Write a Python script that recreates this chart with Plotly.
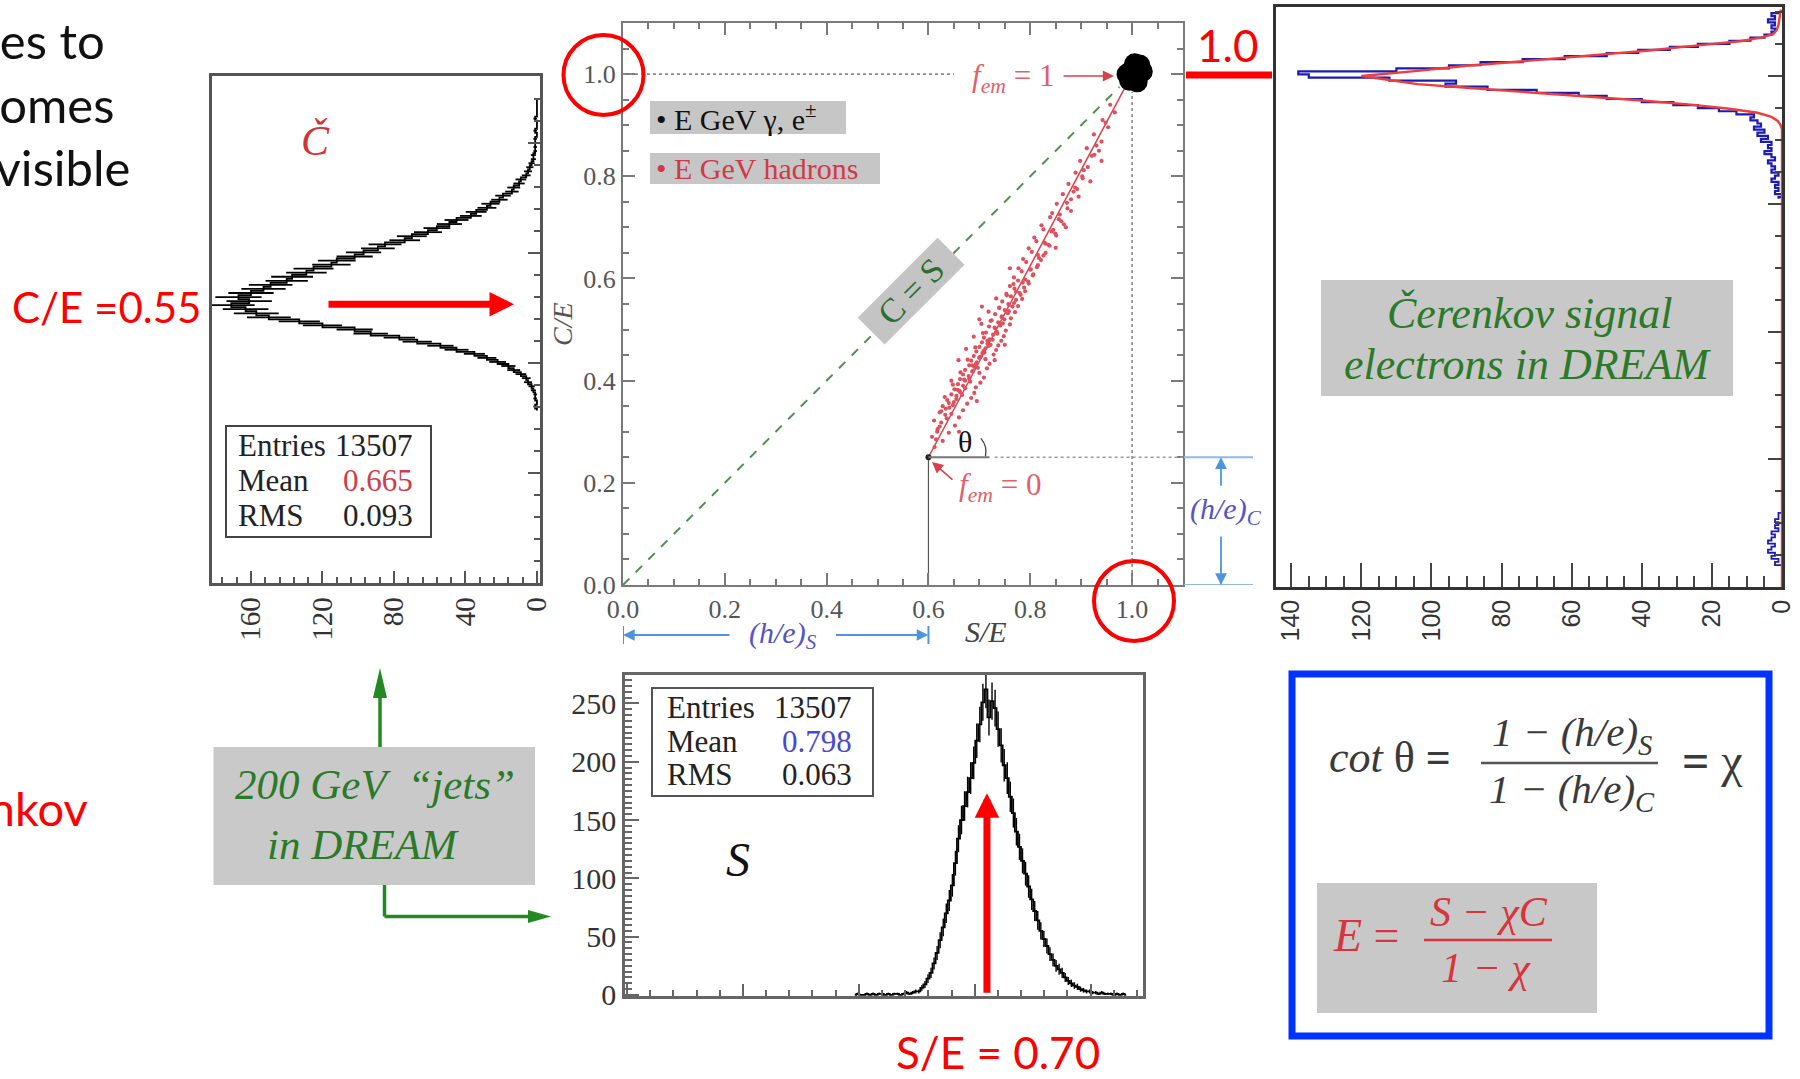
import numpy as np
import plotly.graph_objects as go

W, H = 1800, 1079
SERIF = "Liberation Serif"
SANS = "Lato"
RED = "#ff0000"
ROOT_RED = "#d8404c"
GREEN = "#2a7a2a"


def X(p):
    return p / W


def Y(p):
    return 1 - p / H


# ---------------- data ----------------
# (h/e) values of the calorimeter: hadron line starts at (h/e)_S, (h/e)_C
he_s = 0.60
he_c = 0.25
em_point = [1.0, 1.0]
diag_end = 0.975

# electron cluster at S/E = C/E = 1
em_s = [0.990, 1.005, 1.020, 1.010, 0.995, 1.000, 1.015]
em_c = [1.000, 1.020, 1.005, 0.985, 0.988, 1.008, 1.018]

# hadron events (S/E, C/E)
hadron_s = [0.612, 0.628, 0.607, 0.640, 0.618, 0.652, 0.625, 0.611, 0.660, 0.633, 0.622, 0.668, 0.641, 0.628,
            0.676, 0.650, 0.637, 0.684, 0.655, 0.645, 0.690, 0.661, 0.651, 0.693, 0.668, 0.658, 0.702, 0.672,
            0.662, 0.709, 0.679, 0.668, 0.700, 0.686, 0.672, 0.715, 0.690, 0.680, 0.720, 0.695, 0.684, 0.712,
            0.700, 0.689, 0.728, 0.706, 0.694, 0.733, 0.712, 0.700, 0.737, 0.716, 0.705, 0.743, 0.720, 0.709,
            0.748, 0.727, 0.713, 0.752, 0.731, 0.719, 0.760, 0.737, 0.724, 0.762, 0.744, 0.731, 0.770, 0.750,
            0.739, 0.776, 0.757, 0.745, 0.784, 0.762, 0.753, 0.790, 0.769, 0.760, 0.797, 0.776, 0.768, 0.806,
            0.783, 0.777, 0.815, 0.792, 0.786, 0.826, 0.803, 0.797, 0.836, 0.812, 0.808, 0.849, 0.826, 0.822,
            0.861, 0.839, 0.843, 0.873, 0.852, 0.880, 0.864, 0.892, 0.875, 0.903, 0.889, 0.913, 0.898, 0.926,
            0.911, 0.940, 0.925, 0.953, 0.942, 0.966, 0.957, 0.705, 0.870, 0.760, 0.750, 0.645, 0.695, 0.940,
            0.700, 0.850, 0.660, 0.730, 0.617, 0.634, 0.648, 0.666, 0.682, 0.697, 0.708, 0.722, 0.735, 0.746,
            0.758, 0.768, 0.779, 0.790, 0.801, 0.817, 0.830, 0.845, 0.858, 0.885, 0.905, 0.930,
            0.615, 0.622, 0.636, 0.645, 0.655, 0.662, 0.672, 0.680, 0.688, 0.693, 0.703, 0.710, 0.718, 0.726,
            0.734, 0.741, 0.749, 0.756, 0.765, 0.772, 0.781, 0.788, 0.796, 0.805, 0.813, 0.821, 0.830, 0.838,
            0.851, 0.866, 0.880, 0.895, 0.918, 0.935, 0.625, 0.640, 0.657, 0.670, 0.686, 0.700, 0.716, 0.730,
            0.744, 0.758, 0.772, 0.785, 0.800, 0.815, 0.828, 0.842, 0.856, 0.872, 0.888, 0.902, 0.921, 0.948,
            0.632, 0.648, 0.663, 0.677, 0.692, 0.707, 0.722, 0.739, 0.754, 0.767, 0.659, 0.674, 0.689, 0.704,
            0.718, 0.733]
hadron_c = [0.270, 0.282, 0.290, 0.298, 0.305, 0.312, 0.318, 0.322, 0.328, 0.333, 0.338, 0.342, 0.347, 0.350,
            0.355, 0.358, 0.362, 0.366, 0.370, 0.373, 0.376, 0.380, 0.383, 0.387, 0.390, 0.393, 0.396, 0.400,
            0.403, 0.406, 0.409, 0.412, 0.415, 0.418, 0.421, 0.424, 0.427, 0.430, 0.433, 0.436, 0.439, 0.442,
            0.445, 0.448, 0.451, 0.454, 0.457, 0.460, 0.463, 0.466, 0.469, 0.472, 0.475, 0.478, 0.481, 0.484,
            0.487, 0.490, 0.494, 0.498, 0.502, 0.506, 0.510, 0.514, 0.518, 0.522, 0.526, 0.530, 0.534, 0.538,
            0.542, 0.546, 0.550, 0.555, 0.560, 0.565, 0.570, 0.575, 0.580, 0.585, 0.590, 0.596, 0.602, 0.608,
            0.614, 0.620, 0.626, 0.632, 0.638, 0.645, 0.652, 0.659, 0.666, 0.673, 0.680, 0.688, 0.696, 0.704,
            0.712, 0.720, 0.728, 0.737, 0.746, 0.755, 0.765, 0.775, 0.785, 0.796, 0.807, 0.818, 0.830, 0.842,
            0.855, 0.868, 0.882, 0.896, 0.910, 0.925, 0.940, 0.545, 0.700, 0.620, 0.470, 0.400, 0.360, 0.830,
            0.520, 0.660, 0.300, 0.440, 0.300, 0.345, 0.352, 0.372, 0.398, 0.425, 0.458, 0.470, 0.492, 0.512,
            0.536, 0.552, 0.572, 0.598, 0.618, 0.640, 0.668, 0.695, 0.725, 0.770, 0.812, 0.860,
            0.285, 0.310, 0.326, 0.335, 0.364, 0.378, 0.385, 0.404, 0.419, 0.432, 0.447, 0.455, 0.468, 0.480,
            0.496, 0.508, 0.520, 0.532, 0.545, 0.558, 0.568, 0.582, 0.594, 0.606, 0.622, 0.636, 0.650, 0.664,
            0.684, 0.706, 0.732, 0.760, 0.790, 0.850, 0.340, 0.356, 0.382, 0.402, 0.430, 0.445, 0.478, 0.504,
            0.524, 0.548, 0.574, 0.592, 0.617, 0.646, 0.670, 0.692, 0.716, 0.748, 0.778, 0.800, 0.840, 0.905,
            0.368, 0.392, 0.416, 0.441, 0.465, 0.493, 0.517, 0.543, 0.567, 0.589, 0.440, 0.462, 0.486, 0.511,
            0.535, 0.561]

# Cerenkov (C/E) distribution of the jets, bin centres and counts
cher_bins = [0.340, 0.348, 0.356, 0.364, 0.372, 0.380, 0.388, 0.396, 0.404, 0.412, 0.420, 0.428, 0.436, 0.444,
             0.452, 0.460, 0.468, 0.476, 0.484, 0.492, 0.500, 0.508, 0.516, 0.524, 0.532, 0.540, 0.548, 0.556,
             0.564, 0.572, 0.580, 0.588, 0.596, 0.604, 0.612, 0.620, 0.628, 0.636, 0.644, 0.652, 0.660, 0.668,
             0.676, 0.684, 0.692, 0.700, 0.708, 0.716, 0.724, 0.732, 0.740, 0.748, 0.756, 0.764, 0.772, 0.780,
             0.788, 0.796, 0.804, 0.812, 0.820, 0.828, 0.836, 0.844, 0.852, 0.860, 0.868, 0.876, 0.884, 0.892,
             0.900, 0.908, 0.916, 0.924, 0.932, 0.940, 0.948, 0.956]
cher_counts = [0, 1, 0, 1, 1, 2, 3, 5, 6, 9, 13, 16, 22, 28, 35, 45, 54, 67, 77, 93, 102, 120, 133, 150, 157,
               163, 171, 161, 167, 160, 153, 149, 140, 137, 129, 125, 115, 112, 102, 97, 89, 85, 74, 70, 61, 56,
               49, 45, 37, 34, 28, 26, 21, 19, 14, 13, 10, 9, 6, 5, 4, 3, 2, 2, 1, 1, 1, 1, 0, 1, 0, 0, 1, 0, 0,
               0, 0, 0]

# Scintillation (S/E) distribution of the jets
scin_bins = [0.440, 0.446, 0.452, 0.458, 0.464, 0.470, 0.476, 0.482, 0.488, 0.494, 0.500, 0.506, 0.512, 0.518,
             0.524, 0.530, 0.536, 0.542, 0.548, 0.554, 0.560, 0.566, 0.572, 0.578, 0.584, 0.590, 0.596, 0.602,
             0.608, 0.614, 0.620, 0.626, 0.632, 0.638, 0.644, 0.650, 0.656, 0.662, 0.668, 0.674, 0.680, 0.686,
             0.692, 0.698, 0.704, 0.710, 0.716, 0.722, 0.728, 0.734, 0.740, 0.746, 0.752, 0.758, 0.764, 0.770,
             0.776, 0.782, 0.788, 0.794, 0.800, 0.806, 0.812, 0.818, 0.824, 0.830, 0.836, 0.842, 0.848, 0.854,
             0.860, 0.866, 0.872, 0.878, 0.884, 0.890, 0.896, 0.902, 0.908, 0.914, 0.920, 0.926, 0.932, 0.938,
             0.944, 0.950, 0.956, 0.962, 0.968, 0.974]
scin_counts = [0, 1, 0, 0, 1, 0, 1, 0, 1, 1, 0, 1, 0, 1, 1, 0, 1, 2, 1, 2, 3, 3, 6, 9, 14, 19, 27, 36, 47, 58,
               70, 81, 94, 113, 134, 150, 162, 174, 186, 199, 218, 232, 251, 262, 238, 252, 246, 228, 214, 197,
               186, 170, 156, 140, 127, 115, 104, 93, 82, 72, 64, 55, 48, 42, 35, 30, 25, 22, 19, 15, 12, 10, 8,
               7, 5, 4, 3, 3, 2, 2, 1, 2, 1, 1, 1, 0, 1, 0, 1, 0]

# Cerenkov signal of electrons: measured histogram and fitted curve
el_bins = [0.760, 0.766, 0.772, 0.778, 0.784, 0.790, 0.796, 0.802, 0.808, 0.814, 0.820, 0.826, 0.832, 0.838,
           0.844, 0.850, 0.856, 0.862, 0.868, 0.874, 0.880, 0.886, 0.892, 0.898, 0.904, 0.910, 0.916, 0.922,
           0.928, 0.934, 0.940, 0.946, 0.952, 0.958, 0.964, 0.970, 0.976, 0.982, 0.988, 0.994, 1.000, 1.006,
           1.012, 1.018, 1.024, 1.030, 1.036, 1.042, 1.048, 1.054, 1.060, 1.066, 1.072, 1.078, 1.084, 1.090,
           1.096, 1.102, 1.108, 1.114, 1.120, 1.126]
el_counts = [1, 0, 2, 1, 2, 1, 3, 2, 1, 3, 2, 3, 4, 2, 3, 5, 3, 4, 3, 6, 4, 7, 5, 8, 6, 7, 9, 8, 13, 18, 24,
             31, 40, 50, 58, 70, 84, 96, 93, 112, 135, 138, 110, 95, 86, 74, 62, 50, 41, 32, 24, 15, 9, 5, 3, 2,
             3, 2, 4, 2, 3, 1]
el_low_bins = [0.040, 0.046, 0.052, 0.058, 0.064, 0.070, 0.076, 0.082, 0.088, 0.094, 0.100, 0.106, 0.112,
               0.118, 0.124, 0.130, 0.136, 0.142, 0.148]
el_low_counts = [0, 2, 1, 3, 2, 4, 3, 2, 4, 3, 2, 3, 1, 2, 1, 2, 1, 1, 0]
fit_c = [0.000, 0.896, 0.904, 0.912, 0.920, 0.928, 0.936, 0.944, 0.952, 0.960, 0.968, 0.976, 0.984, 0.992,
         1.000, 1.010, 1.020, 1.030, 1.040, 1.050, 1.060, 1.068, 1.075, 1.082, 1.090, 1.100, 1.110, 1.120, 1.130]
fit_n = [0.0, 0.0, 0.4, 1.2, 3.0, 7.0, 15.0, 26.0, 40.0, 57.0, 72.0, 88.0, 104.0, 112.0, 120.0, 104.0, 90.0,
         72.0, 54.0, 38.0, 24.0, 12.0, 6.0, 2.5, 1.5, 1.0, 0.8, 0.5, 0.3]

# statistics boxes
cher_stats = [("Entries", "13507"), ("Mean", "0.665"), ("RMS", "0.093")]
scin_stats = [("Entries", "13507"), ("Mean", "0.798"), ("RMS", "0.063")]
jet_peak_ce = 0.55
jet_peak_se = 0.70

fig = go.Figure()

# ---------------- centre: C/E versus S/E ----------------
fig.add_trace(go.Scatter(x=[0, diag_end], y=[0, diag_end], mode="lines",
                         line=dict(color="#4f8f4f", width=2, dash="dash"), xaxis="x", yaxis="y"))
fig.add_trace(go.Scatter(x=[he_s, em_point[0]], y=[he_c, em_point[1]], mode="lines",
                         line=dict(color=ROOT_RED, width=1.5), xaxis="x", yaxis="y"))
fig.add_trace(go.Scatter(x=[he_s, he_s], y=[0, he_c], mode="lines",
                         line=dict(color="#555", width=1.2), xaxis="x", yaxis="y"))
fig.add_trace(go.Scatter(x=hadron_s, y=hadron_c, mode="markers",
                         marker=dict(color="#e0505c", size=4.2), xaxis="x", yaxis="y"))
fig.add_trace(go.Scatter(x=[he_s], y=[he_c], mode="markers",
                         marker=dict(color="#222", size=6), xaxis="x", yaxis="y"))
fig.add_trace(go.Scatter(x=em_s, y=em_c, mode="markers",
                         marker=dict(color="black", size=21), xaxis="x", yaxis="y"))

# ---------------- left: Cerenkov distribution (rotated) ----------------
fig.add_trace(go.Scatter(x=cher_counts, y=cher_bins, mode="lines", line_shape="vhv",
                         line=dict(color="black", width=1.8),
                         error_x=dict(type="data", array=np.sqrt(cher_counts), thickness=1.8, width=0,
                                      color="black"),
                         xaxis="x2", yaxis="y2"))

# ---------------- right: electron Cerenkov signal (rotated) ----------------
fig.add_trace(go.Scatter(x=el_counts, y=el_bins, mode="lines", line_shape="vhv",
                         line=dict(color="#1c1cb0", width=2.2), xaxis="x3", yaxis="y3"))
fig.add_trace(go.Scatter(x=el_low_counts, y=el_low_bins, mode="lines", line_shape="vhv",
                         line=dict(color="#1c1cb0", width=1.8), xaxis="x3", yaxis="y3"))
fig.add_trace(go.Scatter(x=fit_n, y=fit_c, mode="lines",
                         line=dict(color="#f03c3c", width=2.4), xaxis="x3", yaxis="y3"))

# ---------------- bottom: scintillation distribution ----------------
fig.add_trace(go.Scatter(x=scin_bins, y=scin_counts, mode="lines", line_shape="hvh",
                         line=dict(color="black", width=1.8),
                         error_y=dict(type="data", array=np.sqrt(scin_counts), thickness=1.4, width=0,
                                      color="black"),
                         xaxis="x4", yaxis="y4"))

for tr in fig.data:
    tr.showlegend = False
    tr.hoverinfo = "skip"


def axis(domain, rng, **kw):
    d = dict(domain=domain, range=rng, showline=True, mirror=True, showgrid=False, zeroline=False,
             ticks="inside", fixedrange=True, automargin=False)
    d.update(kw)
    return d


center_font = dict(family=SERIF, size=26, color="#555")
fig.update_layout(
    width=W, height=H, margin=dict(l=0, r=0, t=0, b=0, pad=0, autoexpand=False),
    paper_bgcolor="white", plot_bgcolor="white", showlegend=False,
    xaxis=axis([X(623), X(1183)], [0, 1.1], anchor="y", linecolor="#7a7a7a", linewidth=2, mirror="ticks",
               tick0=0, dtick=0.2, ticklen=12, tickwidth=1.5, tickcolor="#7a7a7a", tickformat=".1f",
               tickfont=center_font,
               minor=dict(ticks="inside", dtick=0.05, ticklen=6, tickwidth=1.5, tickcolor="#7a7a7a")),
    yaxis=axis([Y(585), Y(23)], [0, 1.1], anchor="x", linecolor="#7a7a7a", linewidth=2, mirror="ticks",
               tick0=0, dtick=0.2, ticklen=12, tickwidth=1.5, tickcolor="#7a7a7a", tickformat=".1f",
               tickfont=center_font,
               minor=dict(ticks="inside", dtick=0.05, ticklen=6, tickwidth=1.5, tickcolor="#7a7a7a")),
    xaxis2=axis([X(212), X(540)], [181.8, -1.7], anchor="y2", linecolor="#555", linewidth=2.5,
                tick0=0, dtick=40, ticklen=12, tickwidth=1.5, tickcolor="#555", tickangle=-90,
                tickfont=dict(family=SERIF, size=29, color="#333"),
                minor=dict(ticks="inside", dtick=8, ticklen=6, tickwidth=1.5, tickcolor="#555")),
    yaxis2=axis([Y(583), Y(76)], [0, 1.0], anchor="x2", side="right", linecolor="#555", linewidth=2.5,
                tick0=0, dtick=0.217, ticklen=12, tickwidth=1.5, tickcolor="#555", showticklabels=False,
                minor=dict(ticks="inside", tick0=0, dtick=0.0434, ticklen=6, tickwidth=1.5, tickcolor="#555")),
    xaxis3=axis([X(1275.5), X(1782)], [144.5, 0], anchor="y3", linecolor="#333", linewidth=2.5,
                tick0=0, dtick=20, ticklen=24, tickwidth=1.5, tickcolor="#444", tickangle=-90,
                tickfont=dict(family="Liberation Sans", size=25, color="#333"),
                minor=dict(ticks="inside", dtick=5, ticklen=11, tickwidth=1.5, tickcolor="#444")),
    yaxis3=axis([Y(587), Y(6.5)], [0, 1.136], anchor="x3", side="right", linecolor="#333", linewidth=2.5,
                tick0=0, dtick=0.25, ticklen=14, tickwidth=1.5, tickcolor="#444", showticklabels=False,
                minor=dict(ticks="inside", dtick=0.0625, ticklen=7, tickwidth=1.5, tickcolor="#444")),
    xaxis4=axis([X(625), X(1143)], [-0.012, 1.007], anchor="y4", linecolor="#666", linewidth=2.5,
                tick0=0.2199, dtick=0.228, ticklen=12, tickwidth=1.5, tickcolor="#666", showticklabels=False,
                minor=dict(ticks="inside", tick0=0.2199, dtick=0.0456, ticklen=6, tickwidth=1.5,
                           tickcolor="#666")),
    yaxis4=axis([Y(996), Y(675)], [-0.9, 274.4], anchor="x4", linecolor="#666", linewidth=2.5,
                tick0=0, dtick=50, ticklen=14, tickwidth=1.5, tickcolor="#666",
                tickfont=dict(family=SERIF, size=30, color="#333"),
                minor=dict(ticks="inside", dtick=5, ticklen=7, tickwidth=1.5, tickcolor="#666")),
)

shapes = []
anns = []


def rect(x0, y0, x1, y1, fill=None, color=None, lw=0, layer="above"):
    shapes.append(dict(type="rect", xref="paper", yref="paper", x0=X(x0), x1=X(x1), y0=Y(y1), y1=Y(y0),
                       fillcolor=fill if fill else "rgba(0,0,0,0)",
                       line=dict(color=color if color else "rgba(0,0,0,0)", width=lw), layer=layer))


def pline(x0, y0, x1, y1, color, lw, dash="solid"):
    shapes.append(dict(type="line", xref="paper", yref="paper", x0=X(x0), y0=Y(y0), x1=X(x1), y1=Y(y1),
                       line=dict(color=color, width=lw, dash=dash)))


def dline(x0, y0, x1, y1, color, lw, dash="solid", xref="x", yref="y"):
    shapes.append(dict(type="line", xref=xref, yref=yref, x0=x0, y0=y0, x1=x1, y1=y1,
                       line=dict(color=color, width=lw, dash=dash)))


def tri(points, color):
    path = "M " + " L ".join(f"{X(a):.5f},{Y(b):.5f}" for a, b in points) + " Z"
    shapes.append(dict(type="path", xref="paper", yref="paper", path=path, fillcolor=color,
                       line=dict(color=color, width=0)))


def circle(cx, cy, r, color, lw):
    shapes.append(dict(type="circle", xref="paper", yref="paper", x0=X(cx - r), x1=X(cx + r),
                       y0=Y(cy + r), y1=Y(cy - r), line=dict(color=color, width=lw)))


def txt(x, y, s, size, color, family, xanchor="center", yanchor="middle", **kw):
    anns.append(dict(x=X(x), y=Y(y), xref="paper", yref="paper", text=s, showarrow=False,
                     font=dict(size=size, color=color, family=family), xanchor=xanchor, yanchor=yanchor, **kw))


def arr(x, y, ax, ay, color, width, size=1.0, head=2, xref="paper", yref="paper"):
    anns.append(dict(x=x, y=y, xref=xref, yref=yref, ax=ax, ay=ay, axref="pixel", ayref="pixel", text="",
                     showarrow=True, arrowhead=head, arrowsize=size, arrowwidth=width, arrowcolor=color,
                     standoff=0, startstandoff=0))


# ---- centre plot guides ----
dline(0, 1.0, 0.65, 1.0, "#8a8a8a", 1.6, "dot")
dline(1.0, 0, 1.0, 0.965, "#8a8a8a", 1.6, "dot")
dline(he_s, he_c, 0.72, he_c, "#777", 2)
dline(0.73, he_c, 1.1, he_c, "#9a9a9a", 1.6, "dot")
shapes.append(dict(type="path", xref="x", yref="y", path="M 0.712,0.252 Q 0.716,0.272 0.703,0.287",
                   line=dict(color="#444", width=1.3)))

# legend boxes
rect(650, 101, 846, 134, fill="#c6c6c6")
txt(654, 117, "•&nbsp;E GeV γ, e<sup>±</sup>", 30, "#111", SERIF, xanchor="left")
rect(650, 153, 880, 184, fill="#c6c6c6")
txt(654, 168, "•&nbsp;E GeV hadrons", 30, "#d03a46", SERIF, xanchor="left")

anns.append(dict(x=0.565, y=0.575, xref="x", yref="y", text="&nbsp;&nbsp;C = S&nbsp;&nbsp;", showarrow=False,
                 textangle=-45, bgcolor="#c4c4c4", borderpad=0,
                 font=dict(family=SERIF, size=34, color="#2d6e2d")))

txt(1013, 78, "<i>f</i><sub><i>em</i></sub> = 1", 31, "#e0606a", SERIF)
arr(X(1114), Y(76), -52, 0, "#d8404c", 1.6, size=1.4)
txt(1000, 487, "<i>f</i><sub><i>em</i></sub> = 0", 31, "#e0606a", SERIF)
arr(X(932), Y(462), 22, 19, "#d8404c", 1.6, size=1.4)
txt(965, 441, "θ", 30, "#111", SERIF)

txt(562, 324, "<i>C/E</i>", 28, "#555", SERIF, textangle=-90)
txt(986, 631, "<i>S/E</i>", 30, "#444", SERIF)

# (h/e)_S and (h/e)_C arrows
BLUE_L = "#4d94dc"
HE_TXT = "#5454c4"
dline(0, Y(626), 0, Y(644), BLUE_L, 2, yref="paper")
dline(he_s, Y(626), he_s, Y(644), BLUE_L, 2, yref="paper")
arr(0, Y(635), 108, 0, BLUE_L, 1.8, size=1.3, xref="x")
arr(he_s, Y(635), -94, 0, BLUE_L, 1.8, size=1.3, xref="x")
txt(783, 635, "<i>(h/e)</i><sub><i>S</i></sub>", 30, HE_TXT, SERIF)

dline(X(1184), he_c, X(1253), he_c, "#8fb8e6", 1.8, xref="paper")
dline(X(1184), 0, X(1253), 0, "#8fb8e6", 1.8, xref="paper")
arr(X(1221), he_c, 0, 30, BLUE_L, 1.8, size=1.3, yref="y")
arr(X(1221), 0, 0, -50, BLUE_L, 1.8, size=1.3, yref="y")
txt(1226, 511, "<i>(h/e)</i><sub><i>C</i></sub>", 30, HE_TXT, SERIF)

# red circles and the 1.0 link
circle(603.5, 75, 40, RED, 4)
circle(1134, 601, 40, RED, 4)
pline(1186, 75, 1272, 75, RED, 7)
txt(1227, 45, "1.0", 44, RED, SANS)

# ---- left plot decorations ----
txt(315, 141, "<i>Č</i>", 42, "#d23434", SERIF)
rect(226, 426, 431, 537, fill="white", color="#444", lw=2)
for i, (k, v) in enumerate(cher_stats):
    yy = 445 + 35 * i
    txt(236, yy, k, 31, "#222", SERIF, xanchor="left")
    txt(415, yy, v, 31, "#d23c48" if k == "Mean" else "#222", SERIF, xanchor="right")
anns.append(dict(x=X(514), y=jet_peak_ce, xref="paper", yref="y2", ax=-187, ay=0, axref="pixel",
                 ayref="pixel", text="", showarrow=True, arrowhead=2, arrowsize=0.7, arrowwidth=7,
                 arrowcolor=RED, standoff=0, startstandoff=0))
txt(106, 307, "C/E =0.55", 42, RED, SANS)

# ---- right plot decorations ----
rect(1321, 280, 1733, 396, fill="#c8c8c8")
txt(1530, 313, "<i>Čerenkov signal</i>", 44, GREEN, SERIF)
txt(1527, 364, "<i>electrons in DREAM</i>", 44, GREEN, SERIF)

# ---- bottom S plot decorations ----
rect(652, 688, 873, 796, fill="white", color="#555", lw=2)
for i, (k, v) in enumerate(scin_stats):
    yy = 707 + 34 * i
    txt(665, yy, k, 31, "#222", SERIF, xanchor="left")
    txt(854, yy, v, 31, "#4848d0" if k == "Mean" else "#222", SERIF, xanchor="right")
txt(738, 859, "<i>S</i>", 48, "#111", SERIF)
anns.append(dict(x=jet_peak_se, y=173, xref="x4", yref="y4", ax=0, ay=201, axref="pixel", ayref="pixel",
                 text="", showarrow=True, arrowhead=2, arrowsize=0.7, arrowwidth=7, arrowcolor=RED,
                 standoff=0, startstandoff=0))
txt(998, 1052, "S/E = 0.70", 44, RED, SANS)

# ---- jets box with arrows ----
GREEN_A = "#238a23"
rect(213.5, 747, 535, 885, fill="#c9c9c9")
txt(375, 784, "<i>200 GeV  “jets”</i>", 43, GREEN, SERIF)
txt(363, 844, "<i>in DREAM</i>", 43, GREEN, SERIF)
pline(380, 747, 380, 696, GREEN_A, 3.5)
tri([(373, 698), (387, 698), (380, 668)], GREEN_A)
pline(384.5, 885, 384.5, 916.5, GREEN_A, 3.5)
pline(384.5, 916.5, 530, 916.5, GREEN_A, 3.5)
tri([(528, 910), (528, 923), (551, 916.5)], GREEN_A)

# ---- formula box ----
rect(1292, 674, 1769, 1036, color="#0033ff", lw=7)
FORM = "#3a3a3a"
txt(1390, 757, "<i>cot</i> θ <b>=</b>", 44, FORM, SERIF)
txt(1572, 735, "<i>1 − (h/e)</i><sub><i>S</i></sub>", 41, FORM, SERIF)
pline(1481, 763, 1658, 763, "#555", 2.5)
txt(1572, 792, "<i>1 − (h/e)</i><sub><i>C</i></sub>", 41, FORM, SERIF)
txt(1712, 760, "<b>=</b> χ", 48, FORM, SERIF)

rect(1317, 883, 1597, 1013, fill="#c8c8c8")
FRED = "#d8343e"
txt(1366, 935, "<i>E</i> =", 46, FRED, SERIF)
txt(1489, 912, "<i>S − χC</i>", 42, FRED, SERIF)
pline(1424, 940, 1552, 940, FRED, 2.5)
txt(1486, 968, "<i>1 − χ</i>", 42, FRED, SERIF)

# ---- slide text ----
txt(112, -30, "y, gy", 49, "#111", SANS, xanchor="right")
txt(107, 40, "goes to", 49, "#111", SANS, xanchor="right")
txt(116, 104, "becomes", 49, "#111", SANS, xanchor="right")
txt(132, 167, "invisible", 49, "#111", SANS, xanchor="right")
txt(90, 808, "Čerenkov", 47, RED, SANS, xanchor="right")

fig.update_layout(shapes=shapes, annotations=anns)
fig.write_html("out.html", include_plotlyjs=True, config={"displayModeBar": False})
